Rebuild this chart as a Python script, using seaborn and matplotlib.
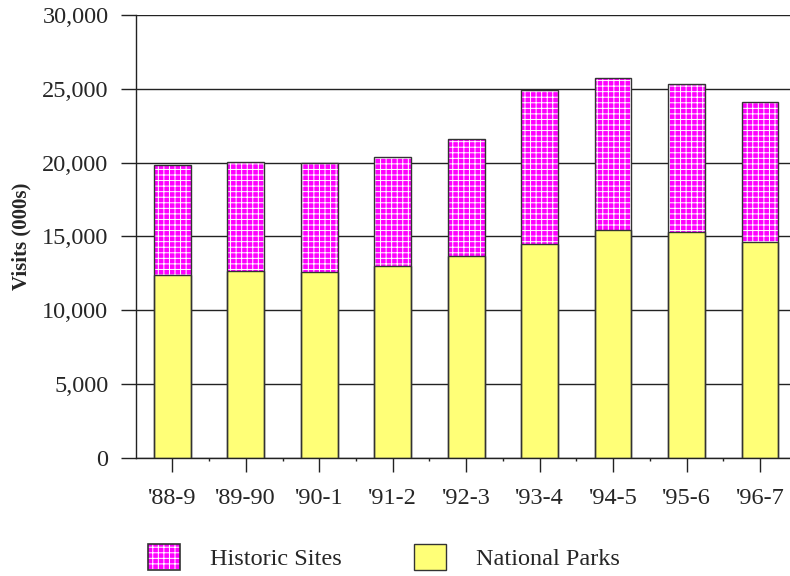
import matplotlib
matplotlib.use("Agg")
import matplotlib.pyplot as plt
import matplotlib.patches as mpatches
from matplotlib.ticker import FixedLocator, FuncFormatter
import pandas as pd
import seaborn as sns

# Visits in thousands per financial year
seasons = ["'88-9", "'89-90", "'90-1", "'91-2", "'92-3", "'93-4", "'94-5", "'95-6", "'96-7"]
national_parks = [12400, 12650, 12600, 13000, 13700, 14500, 15450, 15300, 14600]
historic_sites = [7450, 7400, 7350, 7350, 7900, 10400, 10250, 10050, 9500]
y_ticks = [0, 5000, 10000, 15000, 20000, 25000, 30000]

df = pd.DataFrame({
    "season": seasons,
    "parks": national_parks,
    "historic": historic_sites,
})
df["total"] = df["parks"] + df["historic"]

sns.set_style("white")
plt.rcParams["font.family"] = ["Liberation Serif", "DejaVu Serif"]
plt.rcParams["hatch.linewidth"] = 0.7

MAGENTA = "#FF00FF"
YELLOW = "#FFFF77"
EDGE = "#333333"
FS = 17.5

fig = plt.figure(figsize=(7.9, 5.76), dpi=100)
ax = fig.add_axes([0.1716, 0.2049, 0.8370, 0.7691])

# Historic sites: full stack height, magenta with white grid pattern
sns.barplot(data=df, x="season", y="total", color=MAGENTA, saturation=1,
            width=0.5, ax=ax, zorder=2)
for p in ax.patches:
    p.set_hatch("+++")
    p.set_edgecolor("white")
    p.set_linewidth(0)
n_top = len(ax.patches)

# National parks: lower segment
sns.barplot(data=df, x="season", y="parks", color=YELLOW, saturation=1,
            width=0.5, ax=ax, zorder=3)
for p in ax.patches[n_top:]:
    p.set_edgecolor(EDGE)
    p.set_linewidth(1.0)

# Outline of the full stacks
sns.barplot(data=df, x="season", y="total", fill=False, edgecolor=EDGE,
            linewidth=1.0, width=0.5, ax=ax, zorder=4)

ax.set_ylim(0, 30000)
ax.set_xlim(-0.5, len(seasons) - 0.5)
ax.set_yticks(y_ticks)
ax.yaxis.set_major_formatter(FuncFormatter(lambda v, _: f"{int(v):,}"))
ax.xaxis.set_minor_locator(FixedLocator([i + 0.5 for i in range(len(seasons) - 1)]))

ax.yaxis.grid(True, color="#222222", linewidth=1.0)
ax.set_axisbelow(True)
for side in ("top", "right"):
    ax.spines[side].set_visible(False)
for side in ("left", "bottom"):
    ax.spines[side].set_color("#222222")
    ax.spines[side].set_linewidth(1.0)

ax.tick_params(axis="y", which="major", direction="out", length=11, width=1,
               color="#222222", pad=8.5, labelsize=FS, left=True)
ax.tick_params(axis="x", which="major", direction="out", length=10, width=1,
               color="#222222", pad=11.5, labelsize=FS, bottom=True)
ax.tick_params(axis="x", which="minor", direction="out", length=2, width=1,
               color="#222222", bottom=True)

ax.set_xlabel("")
ax.set_ylabel("Visits (000s)", fontsize=15, fontweight="bold", labelpad=7.5)

hist_fill = mpatches.Patch(facecolor=MAGENTA, edgecolor="white", hatch="+++",
                           linewidth=0)
hist_edge = mpatches.Patch(facecolor="none", edgecolor=EDGE, linewidth=1.2)
parks_patch = mpatches.Patch(facecolor=YELLOW, edgecolor=EDGE, linewidth=1.0)
leg = fig.legend(handles=[(hist_fill, hist_edge), parks_patch],
                 labels=["Historic Sites", "National Parks"],
                 loc="center left", bbox_to_anchor=(0.187, 0.033),
                 ncol=2, frameon=False, fontsize=FS, handlelength=1.32,
                 handleheight=1.32, handletextpad=1.24, columnspacing=2.97,
                 borderaxespad=0, borderpad=0)

fig.savefig("out.png", dpi=100)
